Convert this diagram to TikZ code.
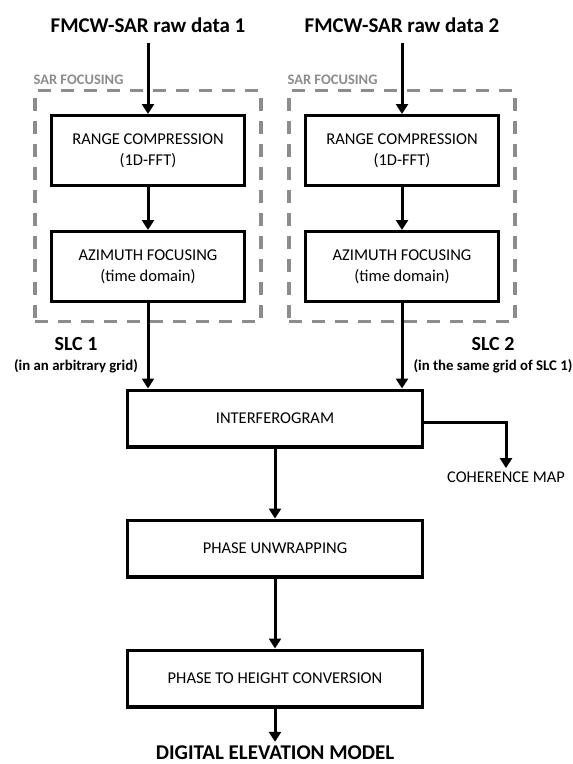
\documentclass[tikz,border=0pt]{standalone}
\usepackage{fontspec}
\setmainfont{Carlito}
\usetikzlibrary{positioning}
\usetikzlibrary{fit}
\usetikzlibrary{arrows.meta}

\begin{document}
\begin{tikzpicture}[
    x=1pt, y=-1pt,
    procbox/.style={rectangle, draw, line width=3.4pt, minimum width=192.6pt, minimum height=69.6pt, align=center, font=\fontsize{16.5}{21}\selectfont},
    widebox/.style={procbox, minimum width=294.6pt, minimum height=56.6pt},
    flow/.style={-{Triangle[width=12pt,length=10pt]}, line width=3pt},
    focusbox/.style={draw=black!45, line width=3.2pt, dash pattern=on 13pt off 10pt, inner xsep=15pt, inner ysep=21pt},
    rawtitle/.style={font=\bfseries\fontsize{21}{25}\selectfont, inner ysep=10pt},
    slclabel/.style={font=\bfseries\fontsize{20}{24}\selectfont},
    slcnote/.style={font=\bfseries\fontsize{14.8}{18}\selectfont},
    focustag/.style={text=black!45, font=\bfseries\fontsize{14.5}{17}\selectfont, inner xsep=0pt, inner ysep=4pt, anchor=south west}
]
\useasboundingbox (0,0) rectangle (573,764);

% Focusing chains (two columns)
\node[procbox] (range1) at (148,150.5) {RANGE COMPRESSION\\(1D-FFT)};
\node[procbox, below=43pt of range1] (azim1) {AZIMUTH FOCUSING\\(time domain)};
\node[procbox, right=58pt of range1] (range2) {RANGE COMPRESSION\\(1D-FFT)};
\node[procbox, below=43pt of range2] (azim2) {AZIMUTH FOCUSING\\(time domain)};

% Dashed focusing frames
\node[focusbox, fit=(range1)(azim1), yshift=2.5pt] (focus1) {};
\node[focusbox, fit=(range2)(azim2), yshift=2.5pt] (focus2) {};
\node[focustag] (tag1) at (focus1.north west) {SAR FOCUSING};
\node[focustag] (tag2) at (focus2.north west) {SAR FOCUSING};

% Inputs
\node[rawtitle] (raw1) at (148,25) {FMCW-SAR raw data 1};
\node[rawtitle] (raw2) at (raw1 -| range2) {FMCW-SAR raw data 2};

% Interferometric chain
\node[widebox] (interf) at (275,418.5) {INTERFEROGRAM};
\node[widebox, below=70pt of interf] (unwrap) {PHASE UNWRAPPING};
\node[widebox, below=70pt of unwrap] (height) {PHASE TO HEIGHT CONVERSION};
\node[font=\fontsize{16.4}{20}\selectfont] (coh) at (506,477) {COHERENCE MAP};
\node[font=\bfseries\fontsize{21}{25}\selectfont, inner ysep=1pt] (dem) at (275,753) {DIGITAL ELEVATION MODEL};

% SLC labels
\node[slclabel] (slc1) at (76,344) {SLC 1};
\node[slcnote] (slc1note) at (76,366) {(in an arbitrary grid)};
\node[slclabel] (slc2) at (493,344) {SLC 2};
\node[slcnote] (slc2note) at (493,366) {(in the same grid of SLC 1)};

% Arrows
\draw[flow] (raw1) -- (range1);
\draw[flow] (raw2) -- (range2);
\draw[flow] (range1) -- (azim1);
\draw[flow] (range2) -- (azim2);
\draw[flow] (azim1) -- (azim1 |- interf.north);
\draw[flow] (azim2) -- (azim2 |- interf.north);
\draw[flow] ([yshift=-3.5pt]interf.east) -| (coh);
\draw[flow] (interf) -- (unwrap);
\draw[flow] (unwrap) -- (height);
\draw[flow] (height) -- ([yshift=3pt]dem.north);

\end{tikzpicture}
\end{document}
